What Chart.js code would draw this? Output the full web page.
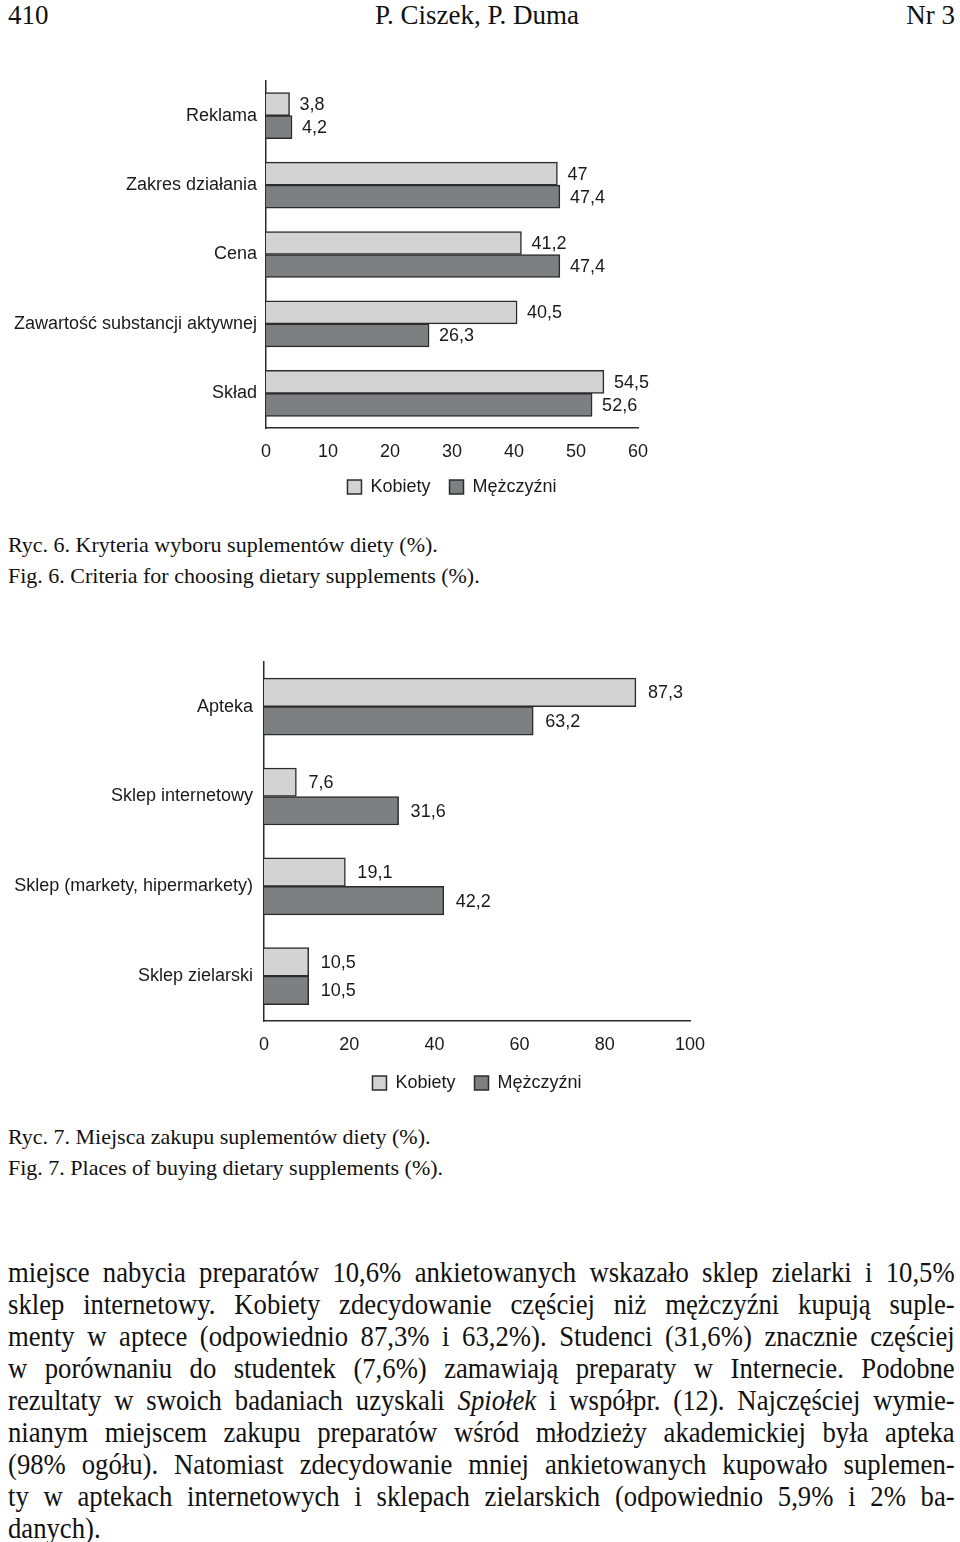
<!DOCTYPE html>
<html>
<head>
<meta charset="utf-8">
<script src="https://cdn.jsdelivr.net/npm/chart.js@4.4.1/dist/chart.umd.min.js"></script>
<style>
html,body{margin:0;padding:0;background:#fff;}
body{width:960px;height:1542px;position:relative;overflow:hidden;font-family:"Liberation Serif","Times New Roman",serif;color:#111;}
.abs{position:absolute;white-space:nowrap;}
.hdr{font-size:27px;line-height:30px;top:0;}
.cap{font-size:22px;line-height:31px;left:8px;}
#body{position:absolute;left:8px;top:1256px;width:1029px;font-size:29px;line-height:32px;transform:scaleX(0.92);transform-origin:0 0;}
#body div{text-align:justify;text-align-last:justify;white-space:nowrap;}
#body div.last{text-align-last:left;}
canvas{position:absolute;left:0;}
</style>
</head>
<body>
<div class="abs hdr" style="left:8px;">410</div>
<div class="abs hdr" style="left:0;width:954px;text-align:center;">P. Ciszek, P. Duma</div>
<div class="abs hdr" style="right:5px;">Nr 3</div>

<canvas id="c1" width="700" height="460" style="top:60px;width:700px;height:460px;"></canvas>
<div class="abs cap" style="top:529px;">Ryc. 6. Kryteria wyboru suplementów diety (%).</div>
<div class="abs cap" style="top:560px;">Fig. 6. Criteria for choosing dietary supplements (%).</div>

<canvas id="c2" width="740" height="476" style="top:640px;width:740px;height:476px;"></canvas>
<div class="abs cap" style="top:1121px;">Ryc. 7. Miejsca zakupu suplementów diety (%).</div>
<div class="abs cap" style="top:1152px;">Fig. 7. Places of buying dietary supplements (%).</div>

<div id="body">
<div>miejsce nabycia preparatów 10,6% ankietowanych wskazało sklep zielarki i 10,5%</div>
<div>sklep internetowy. Kobiety zdecydowanie częściej niż mężczyźni kupują suple-</div>
<div>menty w aptece (odpowiednio 87,3% i 63,2%). Studenci (31,6%) znacznie częściej</div>
<div>w porównaniu do studentek (7,6%) zamawiają preparaty w Internecie. Podobne</div>
<div>rezultaty w swoich badaniach uzyskali <i>Spiołek</i> i współpr. (12). Najczęściej wymie-</div>
<div>nianym miejscem zakupu preparatów wśród młodzieży akademickiej była apteka</div>
<div>(98% ogółu). Natomiast zdecydowanie mniej ankietowanych kupowało suplemen-</div>
<div>ty w aptekach internetowych i sklepach zielarskich (odpowiednio 5,9% i 2% ba-</div>
<div class="last">danych).</div>
</div>

<script>
// ---- data ----
const seriesNames = ['Kobiety', 'Mężczyźni'];

const criteriaLabels = ['Reklama', 'Zakres działania', 'Cena', 'Zawartość substancji aktywnej', 'Skład'];
const criteriaWomen = [3.8, 47, 41.2, 40.5, 54.5];
const criteriaMen = [4.2, 47.4, 47.4, 26.3, 52.6];
const criteriaTicks = [0, 10, 20, 30, 40, 50, 60];

const placeLabels = ['Apteka', 'Sklep internetowy', 'Sklep (markety, hipermarkety)', 'Sklep zielarski'];
const placeWomen = [87.3, 7.6, 19.1, 10.5];
const placeMen = [63.2, 31.6, 42.2, 10.5];
const placeTicks = [0, 20, 40, 60, 80, 100];

// ---- styling ----
const FONT = '"Liberation Sans", Arial, Helvetica, sans-serif';
const TEXT = '#1a1a1a';
const LIGHT = '#d3d3d3';
const DARK = '#7e7f81';
const EDGE = '#2c2c2c';

const fmt = v => String(v).replace('.', ',');

const valueLabels = {
  id: 'valueLabels',
  afterDatasetsDraw(chart, args, opts) {
    const ctx = chart.ctx;
    ctx.save();
    ctx.font = '18px ' + FONT;
    ctx.fillStyle = TEXT;
    ctx.textBaseline = 'middle';
    ctx.textAlign = 'left';
    chart.data.datasets.forEach((ds, i) => {
      chart.getDatasetMeta(i).data.forEach((bar, j) => {
        ctx.fillText(fmt(ds.data[j]), bar.x + opts.gap, bar.y + 1);
      });
    });
    ctx.restore();
  }
};

function makeChart(id, labels, women, men, ticks, cfg) {
  return new Chart(document.getElementById(id), {
    type: 'bar',
    data: {
      labels: labels,
      datasets: [
        { label: seriesNames[0], data: women, backgroundColor: LIGHT, borderColor: EDGE, borderWidth: 1.5, borderSkipped: 'start', barThickness: cfg.bar },
        { label: seriesNames[1], data: men, backgroundColor: DARK, borderColor: EDGE, borderWidth: 1.5, borderSkipped: 'start', barThickness: cfg.bar }
      ]
    },
    options: {
      indexAxis: 'y',
      responsive: false,
      animation: false,
      devicePixelRatio: 1,
      layout: { padding: { top: cfg.padTop, right: cfg.padRight, bottom: 14, left: 0 } },
      scales: {
        x: {
          min: ticks[0],
          max: ticks[ticks.length - 1],
          afterBuildTicks: s => { s.ticks = ticks.map(v => ({ value: v })); },
          afterFit: s => { s.height = cfg.xHeight; },
          grid: { display: false, drawTicks: false },
          border: { display: true, color: EDGE, width: 1.5 },
          ticks: { padding: 13, color: TEXT, font: { family: FONT, size: 18 }, maxRotation: 0 }
        },
        y: {
          afterFit: s => { s.width = cfg.yWidth; },
          grid: { display: false, drawTicks: false },
          border: { display: true, color: EDGE, width: 1.5 },
          ticks: { padding: cfg.yPad, color: TEXT, font: { family: FONT, size: 18 }, autoSkip: false }
        }
      },
      plugins: {
        tooltip: { enabled: false },
        legend: {
          position: 'bottom',
          fullSize: false,
          labels: { boxWidth: 14, boxHeight: 14, padding: 19, color: TEXT, font: { family: FONT, size: 18 } }
        },
        valueLabels: { gap: cfg.gap }
      }
    },
    plugins: [valueLabels]
  });
}

makeChart('c1', criteriaLabels, criteriaWomen, criteriaMen, criteriaTicks,
  { bar: 23, padTop: 21, padRight: 62, xHeight: 31, yWidth: 266, yPad: 9, gap: 10 });
makeChart('c2', placeLabels, placeWomen, placeMen, placeTicks,
  { bar: 28.5, padTop: 19, padRight: 50, xHeight: 34, yWidth: 264, yPad: 11, gap: 12 });
</script>
</body>
</html>
